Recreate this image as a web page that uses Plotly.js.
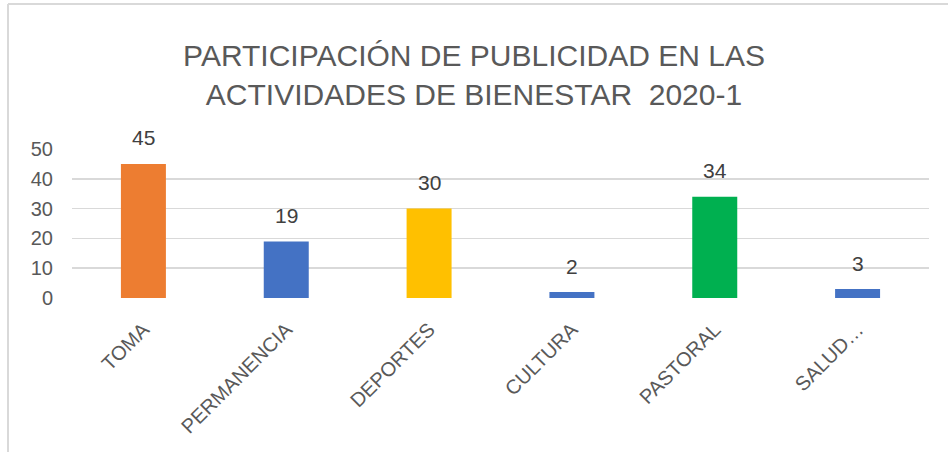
<!DOCTYPE html>
<html><head><meta charset="utf-8">
<script src="https://cdn.plot.ly/plotly-3.0.1.min.js"></script>
<style>html,body{margin:0;padding:0;background:#fff}#chart{width:948px;height:452px}</style>
</head><body><div id="chart"></div>
<script>
const categories = ["TOMA", "PERMANENCIA", "DEPORTES", "CULTURA", "PASTORAL", "SALUD…"];
const values = [45, 19, 30, 2, 34, 3];
const barColors = ["#ED7D31", "#4472C4", "#FFC000", "#4472C4", "#00B050", "#4472C4"];
const yTicks = [0, 10, 20, 30, 40, 50];
const titleText = "PARTICIPACIÓN DE PUBLICIDAD EN LAS<br>ACTIVIDADES DE BIENESTAR  2020-1";

const font = "Liberation Sans, Arial, sans-serif";
const trace = {
  type: "bar",
  x: categories,
  y: values,
  marker: {color: barColors},
  width: 0.315,
  hoverinfo: "none"
};
const labelAnnotations = categories.map((c, i) => ({
  x: c, y: values[i], xref: "x", yref: "y",
  text: String(values[i]), showarrow: false,
  yanchor: "middle", yshift: 26,
  font: {family: font, size: 21, color: "#404040"}
}));
const layout = {
  width: 948, height: 452,
  margin: {l: 72, r: 19, t: 149, b: 154},
  paper_bgcolor: "#fff", plot_bgcolor: "#fff",
  showlegend: false,
  title: {text: titleText, font: {family: font, size: 30, color: "#595959"},
          x: 0.5, xanchor: "center", y: 1 - 66/452, yanchor: "middle", yref: "container"},
  xaxis: {tickangle: -45, tickfont: {family: font, size: 20, color: "#595959"},
          showgrid: false, zeroline: false, showline: false, ticks: "",
          ticklabelstandoff: 15},
  yaxis: {range: [0, 50], tickvals: yTicks, tickfont: {family: font, size: 20, color: "#595959"},
          gridcolor: "#D9D9D9", gridwidth: 1.5, zeroline: false, showline: false,
          ticks: "outside", ticklen: 14, tickcolor: "rgba(0,0,0,0)"},
  annotations: labelAnnotations,
  shapes: [
    {type: "line", xref: "paper", yref: "paper", x0: -64/857, x1: -64/857, y0: -154/149, y1: 294/149,
     line: {color: "#D9D9D9", width: 2}},
    {type: "line", xref: "paper", yref: "paper", x0: -64/857, x1: 876/857, y0: 294/149, y1: 294/149,
     line: {color: "#D9D9D9", width: 2}}
  ]
};
Plotly.newPlot("chart", [trace], layout, {displayModeBar: false, staticPlot: true});
</script></body></html>
